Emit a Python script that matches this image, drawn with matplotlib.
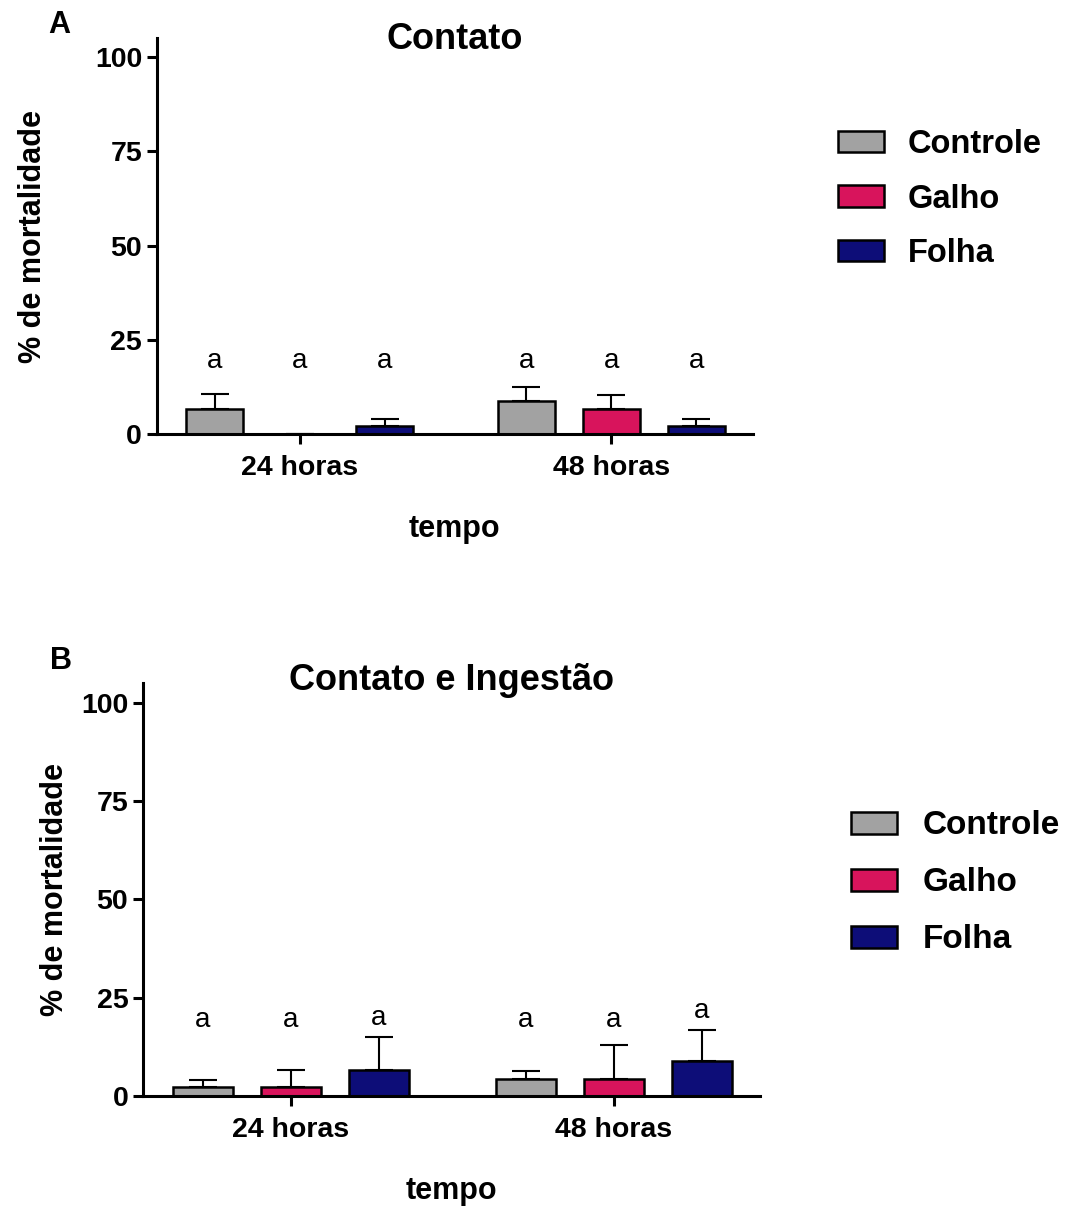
import numpy as np
import matplotlib
matplotlib.use('Agg')
from matplotlib import pyplot as plt

plt.rcParams['font.family'] = ['Liberation Sans', 'DejaVu Sans']

grupos = ['24 horas', '48 horas']
tratamentos = ['Controle', 'Galho', 'Folha']
cores = ['#a2a2a2', '#d8145c', '#0d0d78']

# painel A - contato (media, erro) por tratamento: [24h, 48h]
mediaA = {'Controle': [6.67, 8.89], 'Galho': [0.0, 6.67], 'Folha': [2.22, 2.22]}
erroA = {'Controle': [4.0, 3.6], 'Galho': [0.0, 3.6], 'Folha': [1.8, 1.8]}
letrasA = {'Controle': ['a', 'a'], 'Galho': ['a', 'a'], 'Folha': ['a', 'a']}

# painel B - contato e ingestao
mediaB = {'Controle': [2.22, 4.44], 'Galho': [2.22, 4.44], 'Folha': [6.67, 8.89]}
erroB = {'Controle': [1.9, 1.8], 'Galho': [4.4, 8.6], 'Folha': [8.3, 7.9]}
letrasB = {'Controle': ['a', 'a'], 'Galho': ['a', 'a'], 'Folha': ['a', 'a']}

yticks = [0, 25, 50, 75, 100]

fig = plt.figure(figsize=(10.66, 12.06), dpi=100)


def painel(rect, media, erro, letras, titulo, tit_pos, letra, ylpad,
           leg_pos, leg_sp, leg_fs):
    ax = fig.add_axes(rect)
    gap = 1.67
    for j, t in enumerate(tratamentos):
        xs = np.array([j, j + 2 + gap])
        h = np.array(media[t])
        e = np.array(erro[t])
        ax.bar(xs, h, width=0.68, color=cores[j], edgecolor='black',
               linewidth=1.8, label=t, zorder=2)
        ax.errorbar(xs, h, yerr=[np.zeros_like(e), e], fmt='none',
                    ecolor='black', elinewidth=1.5, capsize=10,
                    capthick=1.5, zorder=1)
        for k in range(2):
            yl = max(16, h[k] + e[k] + 1.5)
            ax.text(xs[k], yl, letras[t][k], ha='center', va='bottom',
                    fontsize=20)
    ax.set_xlim(-0.68, 2 + gap + 2 + 0.66)
    ax.set_ylim(0, 105)
    ax.set_yticks(yticks)
    ax.set_xticks([1, 3 + gap])
    ax.set_xticklabels(grupos)
    for s in ['top', 'right']:
        ax.spines[s].set_visible(False)
    for s in ['left', 'bottom']:
        ax.spines[s].set_linewidth(2.2)
    ax.tick_params(width=2.2, length=7, labelsize=20.5)
    ax.tick_params(axis='x', pad=8)
    for lb in ax.get_xticklabels() + ax.get_yticklabels():
        lb.set_fontweight('bold')
    ax.set_xlabel('tempo', fontsize=22, fontweight='bold', labelpad=24)
    ax.set_ylabel('% de mortalidade', fontsize=22, fontweight='bold',
                  labelpad=ylpad)
    fig.text(tit_pos[0], tit_pos[1], titulo, fontsize=26, fontweight='bold',
             ha='center', va='center')
    fig.text(letra[1], letra[2], letra[0], fontsize=22, fontweight='bold',
             ha='left', va='center')
    ax.legend(loc='upper left', bbox_to_anchor=leg_pos,
              bbox_transform=fig.transFigure, frameon=False, borderpad=0,
              handlelength=1.4, handleheight=0.65,
              handletextpad=0.75, labelspacing=leg_sp, borderaxespad=0,
              prop={'weight': 'bold', 'size': leg_fs})
    return ax


painel([0.147, 0.640, 0.559, 0.3285], mediaA, erroA, letrasA, 'Contato',
       (0.427, 0.967), ('A', 0.045, 0.979), 34, (0.786, 0.893), 0.72, 23.5)
painel([0.134, 0.0912, 0.579, 0.3425], mediaB, erroB, letrasB,
       'Contato e Ingestão', (0.424, 0.436), ('B', 0.047, 0.452), 8,
       (0.798, 0.328), 0.78, 24)

fig.savefig('out.png', dpi=100)
